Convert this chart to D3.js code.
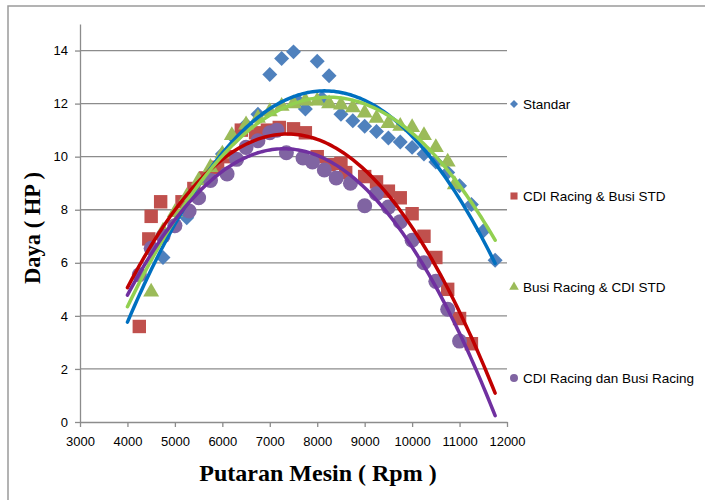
<!DOCTYPE html>
<html>
<head>
<meta charset="utf-8">
<script src="https://cdn.jsdelivr.net/npm/d3@7"></script>
<style>
  body { margin: 0; background: #fff; }
  .tick-label { font-family: "Liberation Sans", Arial, sans-serif; font-size: 13px; fill: #000; }
  .legend-label { font-family: "Liberation Sans", Arial, sans-serif; font-size: 13.5px; fill: #000; }
  .axis-title { font-family: "Liberation Serif", "Times New Roman", serif; font-weight: bold; fill: #000; }
</style>
</head>
<body>
<svg id="chart" width="705" height="500"></svg>
<script>
// series names, in drawing order
var seriesNames = ['Standar', 'CDI Racing & Busi STD', 'Busi Racing & CDI STD', 'CDI Racing dan Busi Racing'];

// Standar
var rpmStandar = [4750, 5000, 5250, 5500, 5750, 6000, 6250, 6500, 6750, 7000, 7250, 7500, 7600, 7750, 8000, 8100, 8250,
  8500, 8750, 9000, 9250, 9500, 9750, 10000, 10250, 10500, 10750, 11000, 11250, 11500, 11750];
var hpStandar = [6.2, 7.4, 7.7, 8.5, 9.4, 10.1, 10.7, 11.2, 11.6, 13.1, 13.7, 13.95, 12.1, 11.8, 13.6, 12.2, 13.05,
  11.6, 11.35, 11.15, 10.95, 10.7, 10.55, 10.35, 10.1, 9.8, 9.4, 8.9, 8.2, 7.2, 6.1];

// CDI Racing & Busi STD
var rpmCdi = [4250, 4450, 4500, 4700, 5150, 5400, 5650, 5900, 6150, 6400, 6700, 6950, 7200, 7500, 7750,
  8000, 8250, 8500, 8600, 9000, 9250, 9500, 9750, 10000, 10250, 10500, 10750, 11000, 11250];
var hpCdi = [3.6, 6.9, 7.75, 8.3, 8.3, 8.8, 9.2, 9.6, 10.0, 11.0, 10.9, 11.0, 11.1, 11.05, 10.9,
  10.0, 9.7, 9.75, 9.4, 9.25, 9.05, 8.7, 8.45, 7.85, 7.0, 6.2, 5.0, 3.9, 2.95];

// Busi Racing & CDI STD
var rpmBusi = [4500, 4750, 5000, 5250, 5500, 5750, 6000, 6200, 6500, 6750, 7000, 7250, 7500, 7750, 8000,
  8250, 8500, 8750, 9000, 9250, 9500, 9750, 10000, 10250, 10500, 10750, 10900];
var hpBusi = [4.9, 7.2, 7.9, 8.5, 9.1, 9.6, 10.1, 10.8, 11.2, 11.45, 11.7, 11.9, 12.0, 12.1, 12.1,
  12.0, 11.95, 11.85, 11.65, 11.45, 11.25, 11.15, 11.1, 10.8, 10.35, 9.8, 8.95];

// CDI Racing dan Busi Racing
var rpmRacing = [4250, 4500, 4750, 5000, 5300, 5500, 5750, 6100, 6300, 6500, 6750, 7000, 7150, 7350, 7700,
  7900, 8150, 8400, 8700, 9000, 9250, 9500, 9750, 10000, 10250, 10500, 10750, 11000];
var hpRacing = [5.55, 6.55, 7.0, 7.4, 7.95, 8.45, 9.1, 9.35, 9.9, 10.35, 10.6, 10.9, 11.0, 10.15, 9.95,
  9.8, 9.5, 9.2, 9.0, 8.15, 8.6, 8.1, 7.55, 6.85, 6.0, 5.3, 4.25, 3.05];

var xTicks = [3000, 4000, 5000, 6000, 7000, 8000, 9000, 10000, 11000, 12000];
var yTicks = [0, 2, 4, 6, 8, 10, 12, 14];
var trendRange = [4000, 11750];

var markerColors = ['#4F81BD', '#C0504D', '#9BBB59', '#8064A2'];
var trendColors = ['#0070C0', '#C00000', '#92D050', '#7030A0'];
var symbols = [d3.symbolSquare, d3.symbolSquare, d3.symbolTriangle, d3.symbolCircle];
var symbolSizes = [112, 180, 110, 177];
var legendSizes = [32, 50, 40, 50];
var rotations = [45, 0, 0, 0];

var allSeries = [
  { x: rpmStandar, y: hpStandar },
  { x: rpmCdi, y: hpCdi },
  { x: rpmBusi, y: hpBusi },
  { x: rpmRacing, y: hpRacing }
];

var svg = d3.select('#chart');
var gridColor = '#8c8c8c';

// chart frame
svg.append('rect')
  .attr('x', 8).attr('y', 6)
  .attr('width', 720).attr('height', 520)
  .attr('fill', 'none')
  .attr('stroke', '#9a9a9a')
  .attr('stroke-width', 1.5);

var x = d3.scaleLinear().domain([3000, 12000]).range([80, 507]);
var y = d3.scaleLinear().domain([0, 15]).range([422, 24]);

// horizontal gridlines
svg.append('g').selectAll('line')
  .data(yTicks.filter(function (d) { return d > 0; }))
  .enter().append('line')
  .attr('x1', x(3000)).attr('x2', x(12000))
  .attr('y1', function (d) { return y(d); })
  .attr('y2', function (d) { return y(d); })
  .attr('stroke', gridColor)
  .attr('stroke-width', 1.3);

// y axis
var yAxis = d3.axisLeft(y).tickValues(yTicks).tickSize(5).tickPadding(6).tickSizeOuter(0);
var gy = svg.append('g').attr('transform', 'translate(' + x(3000) + ',0)').call(yAxis);

// x axis
var xAxis = d3.axisBottom(x).tickValues(xTicks).tickSize(5).tickPadding(10).tickSizeOuter(0).tickFormat(d3.format('d'));
var gx = svg.append('g').attr('transform', 'translate(0,' + y(0) + ')').call(xAxis);

[gx, gy].forEach(function (g) {
  g.select('.domain').attr('stroke', gridColor).attr('stroke-width', 1.3);
  g.selectAll('.tick line').attr('stroke', gridColor).attr('stroke-width', 1.3);
  g.selectAll('.tick text').attr('class', 'tick-label').attr('font-family', null).attr('font-size', null);
});
gy.selectAll('.tick text').attr('x', -12);

// quadratic least squares fit, x in thousands of rpm
function polyFit2(xs, ys) {
  var n = xs.length, s = [0, 0, 0, 0, 0], t = [0, 0, 0];
  for (var i = 0; i < n; i++) {
    var xi = xs[i] / 1000, p = 1;
    for (var k = 0; k < 5; k++) { s[k] += p; if (k < 3) t[k] += p * ys[i]; p *= xi; }
  }
  var m = [[s[0], s[1], s[2], t[0]], [s[1], s[2], s[3], t[1]], [s[2], s[3], s[4], t[2]]];
  for (var c = 0; c < 3; c++) {
    for (var r = c + 1; r < 3; r++) {
      var f = m[r][c] / m[c][c];
      for (var j = c; j < 4; j++) m[r][j] -= f * m[c][j];
    }
  }
  var b = [0, 0, 0];
  for (var r2 = 2; r2 >= 0; r2--) {
    var sum = m[r2][3];
    for (var j2 = r2 + 1; j2 < 3; j2++) sum -= m[r2][j2] * b[j2];
    b[r2] = sum / m[r2][r2];
  }
  return function (xv) { var u = xv / 1000; return b[0] + b[1] * u + b[2] * u * u; };
}

// markers
allSeries.forEach(function (s, i) {
  var sym = d3.symbol().type(symbols[i]).size(symbolSizes[i]);
  svg.append('g').selectAll('path')
    .data(s.x.map(function (d, k) { return [d, s.y[k]]; }))
    .enter().append('path')
    .attr('d', sym)
    .attr('fill', markerColors[i])
    .attr('transform', function (d) {
      return 'translate(' + x(d[0]) + ',' + y(d[1]) + ') rotate(' + rotations[i] + ')';
    });
});

// trendlines
var trendX = d3.range(trendRange[0], trendRange[1] + 1, 50);
var line = d3.line().x(function (d) { return x(d[0]); }).y(function (d) { return y(d[1]); });
allSeries.forEach(function (s, i) {
  var fit = polyFit2(s.x, s.y);
  svg.append('path')
    .datum(trendX.map(function (d) { return [d, fit(d)]; }))
    .attr('d', line)
    .attr('fill', 'none')
    .attr('stroke', trendColors[i])
    .attr('stroke-width', 3.5)
    .attr('stroke-linecap', 'round');
});

// legend
var legendY = [104, 196, 287, 378];
seriesNames.forEach(function (name, i) {
  var g = svg.append('g').attr('transform', 'translate(514,' + legendY[i] + ')');
  g.append('path')
    .attr('d', d3.symbol().type(symbols[i]).size(legendSizes[i]))
    .attr('fill', markerColors[i])
    .attr('transform', 'rotate(' + rotations[i] + ')');
  g.append('text')
    .attr('class', 'legend-label')
    .attr('x', 9)
    .attr('dy', '0.35em')
    .text(name);
});

// axis titles
svg.append('text')
  .attr('class', 'axis-title')
  .attr('font-size', 24)
  .attr('text-anchor', 'middle')
  .attr('x', 318).attr('y', 481)
  .text('Putaran Mesin ( Rpm )');

svg.append('text')
  .attr('class', 'axis-title')
  .attr('font-size', 22.5)
  .attr('text-anchor', 'middle')
  .attr('transform', 'translate(40,228) rotate(-90)')
  .text('Daya ( HP )');
</script>
</body>
</html>
